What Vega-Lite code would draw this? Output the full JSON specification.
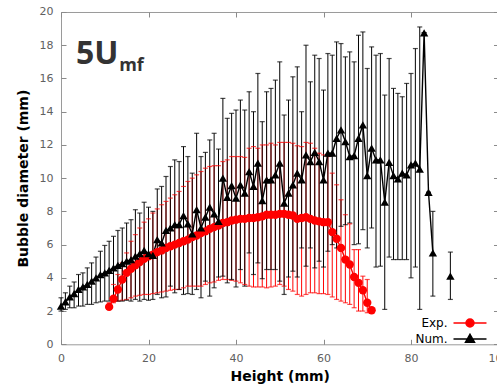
{
  "$schema": "https://vega.github.io/schema/vega-lite/v6.json",
  "width": 437.5,
  "height": 332.3,
  "autosize": {"type": "none"},
  "padding": {"left": 61, "top": 12, "right": 0, "bottom": 46},
  "background": "white",
  "config": {
    "view": {"stroke": "#9a9a9a", "strokeWidth": 1},
    "axis": {
      "grid": false,
      "domain": false,
      "ticks": true,
      "tickSize": -5,
      "tickColor": "#8a8a8a",
      "tickWidth": 1,
      "labelColor": "#606060",
      "labelFont": "DejaVu Sans",
      "labelFontSize": 11,
      "labelPadding": 13,
      "labelFlush": false,
      "titleFont": "DejaVu Sans",
      "titleFontSize": 14,
      "titleFontWeight": "bold",
      "titleColor": "#000000"
    },
    "legend": {
      "orient": "none",
      "legendX": 403,
      "legendY": 305,
      "padding": 0,
      "title": null,
      "labelFont": "DejaVu Sans",
      "labelFontSize": 12,
      "labelColor": "#000000",
      "labelAlign": "right",
      "labelOffset": -28.5,
      "symbolSize": 100,
      "symbolStrokeWidth": 1.5,
      "rowPadding": 1
    }
  },
  "data": {
    "values": [
      {"s": "Exp.", "x": 11, "y": 2.25, "lo": 2.1, "hi": 2.5, "g": 1},
      {"s": "Exp.", "x": 12, "y": 2.75, "lo": 2.5, "hi": 3.6, "g": 1},
      {"s": "Exp.", "x": 13, "y": 3.3, "lo": 2.6, "hi": 4.2, "g": 1},
      {"s": "Exp.", "x": 14, "y": 3.9, "lo": 2.65, "hi": 4.9, "g": 1},
      {"s": "Exp.", "x": 15, "y": 4.3, "lo": 2.7, "hi": 5.5, "g": 1},
      {"s": "Exp.", "x": 16, "y": 4.55, "lo": 2.8, "hi": 6.2, "g": 1},
      {"s": "Exp.", "x": 17, "y": 4.75, "lo": 2.9, "hi": 6.6, "g": 1},
      {"s": "Exp.", "x": 18, "y": 4.95, "lo": 2.95, "hi": 7.0, "g": 1},
      {"s": "Exp.", "x": 19, "y": 5.15, "lo": 3.0, "hi": 7.35, "g": 1},
      {"s": "Exp.", "x": 20, "y": 5.3, "lo": 3.0, "hi": 7.55, "g": 1},
      {"s": "Exp.", "x": 21, "y": 5.4, "lo": 3.05, "hi": 7.9, "g": 1},
      {"s": "Exp.", "x": 22, "y": 5.55, "lo": 3.1, "hi": 8.15, "g": 1},
      {"s": "Exp.", "x": 23, "y": 5.65, "lo": 3.15, "hi": 8.4, "g": 1},
      {"s": "Exp.", "x": 24, "y": 5.8, "lo": 3.2, "hi": 8.6, "g": 1},
      {"s": "Exp.", "x": 25, "y": 5.9, "lo": 3.25, "hi": 8.8, "g": 1},
      {"s": "Exp.", "x": 26, "y": 6.0, "lo": 3.3, "hi": 9.0, "g": 1},
      {"s": "Exp.", "x": 27, "y": 6.1, "lo": 3.3, "hi": 9.2, "g": 1},
      {"s": "Exp.", "x": 28, "y": 6.2, "lo": 3.4, "hi": 9.5, "g": 1},
      {"s": "Exp.", "x": 29, "y": 6.3, "lo": 3.5, "hi": 9.8, "g": 1},
      {"s": "Exp.", "x": 30, "y": 6.45, "lo": 3.5, "hi": 10.0, "g": 1},
      {"s": "Exp.", "x": 31, "y": 6.55, "lo": 3.5, "hi": 10.2, "g": 1},
      {"s": "Exp.", "x": 32, "y": 6.7, "lo": 3.5, "hi": 10.4, "g": 1},
      {"s": "Exp.", "x": 33, "y": 6.8, "lo": 3.6, "hi": 10.6, "g": 1},
      {"s": "Exp.", "x": 34, "y": 6.95, "lo": 3.7, "hi": 10.7, "g": 1},
      {"s": "Exp.", "x": 35, "y": 7.05, "lo": 3.75, "hi": 10.75, "g": 1},
      {"s": "Exp.", "x": 36, "y": 7.15, "lo": 3.85, "hi": 10.75, "g": 1},
      {"s": "Exp.", "x": 37, "y": 7.3, "lo": 3.9, "hi": 11.0, "g": 1},
      {"s": "Exp.", "x": 38, "y": 7.35, "lo": 3.9, "hi": 11.1, "g": 1},
      {"s": "Exp.", "x": 39, "y": 7.45, "lo": 3.85, "hi": 11.3, "g": 1},
      {"s": "Exp.", "x": 40, "y": 7.5, "lo": 3.8, "hi": 11.3, "g": 1},
      {"s": "Exp.", "x": 41, "y": 7.55, "lo": 3.7, "hi": 11.3, "g": 1},
      {"s": "Exp.", "x": 42, "y": 7.55, "lo": 3.6, "hi": 11.25, "g": 1},
      {"s": "Exp.", "x": 43, "y": 7.6, "lo": 3.5, "hi": 11.8, "g": 1},
      {"s": "Exp.", "x": 44, "y": 7.6, "lo": 3.45, "hi": 11.9, "g": 1},
      {"s": "Exp.", "x": 45, "y": 7.65, "lo": 3.45, "hi": 11.8, "g": 1},
      {"s": "Exp.", "x": 46, "y": 7.7, "lo": 3.45, "hi": 12.0, "g": 1},
      {"s": "Exp.", "x": 47, "y": 7.8, "lo": 3.4, "hi": 12.0, "g": 1},
      {"s": "Exp.", "x": 48, "y": 7.8, "lo": 3.45, "hi": 12.1, "g": 1},
      {"s": "Exp.", "x": 49, "y": 7.8, "lo": 3.5, "hi": 12.0, "g": 1},
      {"s": "Exp.", "x": 50, "y": 7.85, "lo": 3.6, "hi": 12.15, "g": 1},
      {"s": "Exp.", "x": 51, "y": 7.85, "lo": 3.5, "hi": 12.15, "g": 1},
      {"s": "Exp.", "x": 52, "y": 7.8, "lo": 3.3, "hi": 12.15, "g": 1},
      {"s": "Exp.", "x": 53, "y": 7.75, "lo": 3.2, "hi": 12.1, "g": 1},
      {"s": "Exp.", "x": 54, "y": 7.55, "lo": 3.0, "hi": 11.95, "g": 1},
      {"s": "Exp.", "x": 55, "y": 7.6, "lo": 2.9, "hi": 11.9, "g": 1},
      {"s": "Exp.", "x": 56, "y": 7.65, "lo": 3.0, "hi": 12.15, "g": 1},
      {"s": "Exp.", "x": 57, "y": 7.55, "lo": 3.1, "hi": 12.1, "g": 1},
      {"s": "Exp.", "x": 58, "y": 7.45, "lo": 3.1, "hi": 11.8, "g": 1},
      {"s": "Exp.", "x": 59, "y": 7.4, "lo": 3.05, "hi": 11.5, "g": 1},
      {"s": "Exp.", "x": 60, "y": 7.35, "lo": 3.05, "hi": 11.4, "g": 1},
      {"s": "Exp.", "x": 61, "y": 7.35, "lo": 3.0, "hi": 11.3, "g": 1},
      {"s": "Exp.", "x": 62, "y": 6.75, "lo": 2.85, "hi": 10.3, "g": 1},
      {"s": "Exp.", "x": 63, "y": 6.35, "lo": 2.7, "hi": 9.6, "g": 1},
      {"s": "Exp.", "x": 64, "y": 5.8, "lo": 2.6, "hi": 8.7, "g": 1},
      {"s": "Exp.", "x": 65, "y": 5.1, "lo": 2.5, "hi": 7.8, "g": 1},
      {"s": "Exp.", "x": 66, "y": 4.8, "lo": 2.4, "hi": 7.25, "g": 1},
      {"s": "Exp.", "x": 67, "y": 4.05, "lo": 2.2, "hi": 5.7, "g": 1},
      {"s": "Exp.", "x": 68, "y": 3.7, "lo": 2.0, "hi": 5.7, "g": 1},
      {"s": "Exp.", "x": 69, "y": 3.25, "lo": 2.0, "hi": 4.1, "g": 1},
      {"s": "Exp.", "x": 70, "y": 2.5, "lo": 1.9, "hi": 3.9, "g": 1},
      {"s": "Exp.", "x": 71, "y": 2.05, "lo": 1.9, "hi": 2.1, "g": 1},
      {"s": "Num.", "x": 0, "y": 2.3, "lo": 2.0, "hi": 2.8, "g": 2},
      {"s": "Num.", "x": 1, "y": 2.55, "lo": 2.1, "hi": 3.1, "g": 2},
      {"s": "Num.", "x": 2, "y": 2.85, "lo": 2.2, "hi": 3.5, "g": 2},
      {"s": "Num.", "x": 3, "y": 3.05, "lo": 2.2, "hi": 3.75, "g": 2},
      {"s": "Num.", "x": 4, "y": 3.3, "lo": 2.3, "hi": 4.2, "g": 2},
      {"s": "Num.", "x": 5, "y": 3.45, "lo": 2.3, "hi": 4.3, "g": 2},
      {"s": "Num.", "x": 6, "y": 3.6, "lo": 2.4, "hi": 4.6, "g": 2},
      {"s": "Num.", "x": 7, "y": 3.8, "lo": 2.4, "hi": 4.9, "g": 2},
      {"s": "Num.", "x": 8, "y": 4.0, "lo": 2.5, "hi": 5.25, "g": 2},
      {"s": "Num.", "x": 9, "y": 4.2, "lo": 2.55, "hi": 5.6, "g": 2},
      {"s": "Num.", "x": 10, "y": 4.3, "lo": 2.6, "hi": 5.95, "g": 2},
      {"s": "Num.", "x": 11, "y": 4.45, "lo": 2.6, "hi": 6.2, "g": 2},
      {"s": "Num.", "x": 12, "y": 4.6, "lo": 2.6, "hi": 6.5, "g": 2},
      {"s": "Num.", "x": 13, "y": 4.75, "lo": 2.6, "hi": 6.85, "g": 2},
      {"s": "Num.", "x": 14, "y": 4.85, "lo": 2.6, "hi": 7.0, "g": 2},
      {"s": "Num.", "x": 15, "y": 5.0, "lo": 2.65, "hi": 7.3, "g": 2},
      {"s": "Num.", "x": 16, "y": 5.1, "lo": 2.6, "hi": 7.5, "g": 2},
      {"s": "Num.", "x": 17, "y": 5.3, "lo": 2.7, "hi": 8.1, "g": 2},
      {"s": "Num.", "x": 18, "y": 5.45, "lo": 2.6, "hi": 7.9, "g": 2},
      {"s": "Num.", "x": 19, "y": 5.65, "lo": 2.7, "hi": 8.55, "g": 2},
      {"s": "Num.", "x": 20, "y": 5.45, "lo": 2.65, "hi": 8.25, "g": 2},
      {"s": "Num.", "x": 21, "y": 5.35, "lo": 2.7, "hi": 8.0, "g": 2},
      {"s": "Num.", "x": 22, "y": 6.3, "lo": 3.0, "hi": 9.35, "g": 2},
      {"s": "Num.", "x": 23, "y": 6.1, "lo": 2.8, "hi": 9.5, "g": 2},
      {"s": "Num.", "x": 24, "y": 6.85, "lo": 2.85, "hi": 10.1, "g": 2},
      {"s": "Num.", "x": 25, "y": 7.0, "lo": 3.5, "hi": 10.7, "g": 2},
      {"s": "Num.", "x": 26, "y": 7.2, "lo": 3.1, "hi": 11.1, "g": 2},
      {"s": "Num.", "x": 27, "y": 7.2, "lo": 3.3, "hi": 11.0, "g": 2},
      {"s": "Num.", "x": 28, "y": 7.75, "lo": 3.0, "hi": 11.9, "g": 2},
      {"s": "Num.", "x": 29, "y": 7.25, "lo": 3.05, "hi": 11.3, "g": 2},
      {"s": "Num.", "x": 30, "y": 6.65, "lo": 3.0, "hi": 10.3, "g": 2},
      {"s": "Num.", "x": 31, "y": 8.1, "lo": 3.3, "hi": 12.7, "g": 2},
      {"s": "Num.", "x": 32, "y": 7.0, "lo": 2.8, "hi": 11.3, "g": 2},
      {"s": "Num.", "x": 33, "y": 7.65, "lo": 3.8, "hi": 11.55, "g": 2},
      {"s": "Num.", "x": 34, "y": 8.25, "lo": 2.9, "hi": 12.3, "g": 2},
      {"s": "Num.", "x": 35, "y": 7.85, "lo": 3.4, "hi": 12.7, "g": 2},
      {"s": "Num.", "x": 36, "y": 7.4, "lo": 4.05, "hi": 11.75, "g": 2},
      {"s": "Num.", "x": 37, "y": 10.0, "lo": 4.1, "hi": 14.8, "g": 2},
      {"s": "Num.", "x": 38, "y": 8.85, "lo": 3.7, "hi": 13.6, "g": 2},
      {"s": "Num.", "x": 39, "y": 9.55, "lo": 3.9, "hi": 13.9, "g": 2},
      {"s": "Num.", "x": 40, "y": 8.8, "lo": 3.45, "hi": 14.1, "g": 2},
      {"s": "Num.", "x": 41, "y": 9.6, "lo": 4.5, "hi": 14.7, "g": 2},
      {"s": "Num.", "x": 42, "y": 9.1, "lo": 3.5, "hi": 14.1, "g": 2},
      {"s": "Num.", "x": 43, "y": 10.4, "lo": 5.5, "hi": 15.2, "g": 2},
      {"s": "Num.", "x": 44, "y": 9.5, "lo": 4.2, "hi": 14.0, "g": 2},
      {"s": "Num.", "x": 45, "y": 10.9, "lo": 4.9, "hi": 16.3, "g": 2},
      {"s": "Num.", "x": 46, "y": 8.65, "lo": 3.95, "hi": 13.4, "g": 2},
      {"s": "Num.", "x": 47, "y": 9.9, "lo": 4.5, "hi": 15.2, "g": 2},
      {"s": "Num.", "x": 48, "y": 9.9, "lo": 4.5, "hi": 15.4, "g": 2},
      {"s": "Num.", "x": 49, "y": 10.2, "lo": 4.5, "hi": 15.9, "g": 2},
      {"s": "Num.", "x": 50, "y": 10.9, "lo": 3.8, "hi": 17.0, "g": 2},
      {"s": "Num.", "x": 51, "y": 8.5, "lo": 3.0, "hi": 13.8, "g": 2},
      {"s": "Num.", "x": 52, "y": 9.1, "lo": 4.05, "hi": 14.7, "g": 2},
      {"s": "Num.", "x": 53, "y": 9.6, "lo": 4.4, "hi": 16.1, "g": 2},
      {"s": "Num.", "x": 54, "y": 10.3, "lo": 4.05, "hi": 16.7, "g": 2},
      {"s": "Num.", "x": 55, "y": 9.9, "lo": 5.8, "hi": 14.0, "g": 2},
      {"s": "Num.", "x": 56, "y": 11.4, "lo": 4.7, "hi": 18.0, "g": 2},
      {"s": "Num.", "x": 57, "y": 11.0, "lo": 5.8, "hi": 15.8, "g": 2},
      {"s": "Num.", "x": 58, "y": 11.55, "lo": 4.6, "hi": 17.4, "g": 2},
      {"s": "Num.", "x": 59, "y": 11.0, "lo": 5.0, "hi": 17.2, "g": 2},
      {"s": "Num.", "x": 60, "y": 9.9, "lo": 4.65, "hi": 15.3, "g": 2},
      {"s": "Num.", "x": 61, "y": 11.5, "lo": 5.6, "hi": 17.5, "g": 2},
      {"s": "Num.", "x": 62, "y": 11.5, "lo": 6.0, "hi": 17.4, "g": 2},
      {"s": "Num.", "x": 63, "y": 12.4, "lo": 5.8, "hi": 18.2, "g": 2},
      {"s": "Num.", "x": 64, "y": 12.9, "lo": 7.1, "hi": 18.1, "g": 2},
      {"s": "Num.", "x": 65, "y": 12.2, "lo": 7.2, "hi": 17.3, "g": 2},
      {"s": "Num.", "x": 66, "y": 11.3, "lo": 7.3, "hi": 17.6, "g": 2},
      {"s": "Num.", "x": 67, "y": 11.35, "lo": 6.0, "hi": 17.0, "g": 2},
      {"s": "Num.", "x": 68, "y": 12.4, "lo": 6.05, "hi": 18.6, "g": 2},
      {"s": "Num.", "x": 69, "y": 13.2, "lo": 6.9, "hi": 18.8, "g": 2},
      {"s": "Num.", "x": 70, "y": 10.15, "lo": 5.8, "hi": 16.6, "g": 2},
      {"s": "Num.", "x": 71, "y": 11.8, "lo": 7.0, "hi": 17.9, "g": 2},
      {"s": "Num.", "x": 72, "y": 11.1, "lo": 4.65, "hi": 17.4, "g": 2},
      {"s": "Num.", "x": 73, "y": 11.1, "lo": 4.7, "hi": 17.5, "g": 2},
      {"s": "Num.", "x": 74, "y": 8.55, "lo": 2.1, "hi": 15.0, "g": 2},
      {"s": "Num.", "x": 75, "y": 10.95, "lo": 5.25, "hi": 17.2, "g": 2},
      {"s": "Num.", "x": 76, "y": 10.15, "lo": 5.1, "hi": 15.4, "g": 2},
      {"s": "Num.", "x": 77, "y": 9.95, "lo": 5.1, "hi": 15.1, "g": 2},
      {"s": "Num.", "x": 78, "y": 10.3, "lo": 5.1, "hi": 14.9, "g": 2},
      {"s": "Num.", "x": 79, "y": 10.2, "lo": 5.1, "hi": 15.7, "g": 2},
      {"s": "Num.", "x": 80, "y": 10.8, "lo": 4.0, "hi": 16.3, "g": 2},
      {"s": "Num.", "x": 81, "y": 10.9, "lo": 4.65, "hi": 17.8, "g": 2},
      {"s": "Num.", "x": 82, "y": 10.55, "lo": 2.1, "hi": 19.1, "g": 2},
      {"s": "Num.", "x": 83, "y": 18.75, "lo": 18.75, "hi": 18.75, "g": 2},
      {"s": "Num.", "x": 84, "y": 9.15, "lo": 9.15, "hi": 9.15, "g": 2},
      {"s": "Num.", "x": 85, "y": 5.5, "lo": 2.9, "hi": 8.0, "g": 2},
      {"s": "Num.", "x": 89, "y": 4.1, "lo": 2.7, "hi": 5.55, "g": 3}
    ]
  },
  "layer": [
    {
      "mark": {"type": "rule", "strokeWidth": 1},
      "encoding": {
        "x": {"field": "x", "type": "quantitative", "scale": {"domain": [0, 100], "nice": false},
              "axis": {"values": [0, 20, 40, 60, 80, 100], "title": "Height (mm)", "titlePadding": 6}},
        "y": {"field": "lo", "type": "quantitative", "scale": {"domain": [0, 20], "nice": false},
              "axis": {"values": [0, 2, 4, 6, 8, 10, 12, 14, 16, 18, 20], "title": "Bubble diameter (mm)", "titlePadding": 9}},
        "y2": {"field": "hi"},
        "color": {"field": "s", "type": "nominal", "scale": {"domain": ["Exp.", "Num."], "range": ["#ff0000", "#000000"]}, "legend": null}
      }
    },
    {
      "mark": {"type": "tick", "orient": "horizontal", "size": 5, "thickness": 1.2},
      "encoding": {
        "x": {"field": "x", "type": "quantitative", "axis": null},
        "y": {"field": "lo", "type": "quantitative", "axis": null},
        "color": {"field": "s", "type": "nominal", "legend": null}
      }
    },
    {
      "mark": {"type": "tick", "orient": "horizontal", "size": 5, "thickness": 1.2},
      "encoding": {
        "x": {"field": "x", "type": "quantitative", "axis": null},
        "y": {"field": "hi", "type": "quantitative", "axis": null},
        "color": {"field": "s", "type": "nominal", "legend": null}
      }
    },
    {
      "mark": {"type": "line", "strokeWidth": 1.4},
      "encoding": {
        "x": {"field": "x", "type": "quantitative", "axis": null},
        "y": {"field": "y", "type": "quantitative", "axis": null},
        "detail": {"field": "g", "type": "nominal"},
        "color": {
          "field": "s", "type": "nominal",
          "legend": {
            "encode": {
              "symbols": {
                "update": {
                  "shape": [{"test": "datum.value === 'Exp.'", "value": "M-3.3,0L3.3,0M-0.8,0A0.8,0.8 0 1,0 0.8,0A0.8,0.8 0 1,0 -0.8,0Z"}, {"value": "M-3.3,0L3.3,0M0,-0.95L0.9,0.65L-0.9,0.65Z"}],
                  "fill": [{"test": "datum.value === 'Exp.'", "value": "#ff0000"}, {"value": "#000000"}],
                  "stroke": [{"test": "datum.value === 'Exp.'", "value": "#ff0000"}, {"value": "#000000"}],
                  "strokeWidth": {"value": 1.5},
                  "opacity": {"value": 1}
                }
              }
            }
          }
        }
      }
    },
    {
      "mark": {"type": "point", "filled": true, "opacity": 1, "size": 70},
      "encoding": {
        "x": {"field": "x", "type": "quantitative", "axis": {"orient": "top", "labels": false, "title": null, "values": [0, 20, 40, 60, 80, 100]}},
        "y": {"field": "y", "type": "quantitative", "axis": {"orient": "right", "labels": false, "title": null, "values": [0, 2, 4, 6, 8, 10, 12, 14, 16, 18, 20]}},
        "color": {"field": "s", "type": "nominal", "legend": null},
        "shape": {"field": "s", "type": "nominal", "scale": {"domain": ["Exp.", "Num."], "range": ["circle", "triangle-up"]}, "legend": null}
      }
    },
    {
      "data": {"values": [{"t": "5U"}]},
      "mark": {"type": "text", "align": "left", "baseline": "alphabetic", "font": "Open Sans", "fontWeight": "bold", "fontSize": 32, "color": "#333333"},
      "encoding": {
        "x": {"datum": 3.4, "type": "quantitative", "axis": null},
        "y": {"datum": 16.9, "type": "quantitative", "axis": null},
        "text": {"field": "t"}
      }
    },
    {
      "data": {"values": [{"t": "mf"}]},
      "mark": {"type": "text", "align": "left", "baseline": "alphabetic", "font": "Open Sans", "fontWeight": "bold", "fontSize": 18, "color": "#333333"},
      "encoding": {
        "x": {"datum": 13.3, "type": "quantitative", "axis": null},
        "y": {"datum": 16.42, "type": "quantitative", "axis": null},
        "text": {"field": "t"}
      }
    }
  ],
  "resolve": {
    "axis": {"x": "independent", "y": "independent"},
    "legend": {"color": "independent", "shape": "independent"}
  }
}
